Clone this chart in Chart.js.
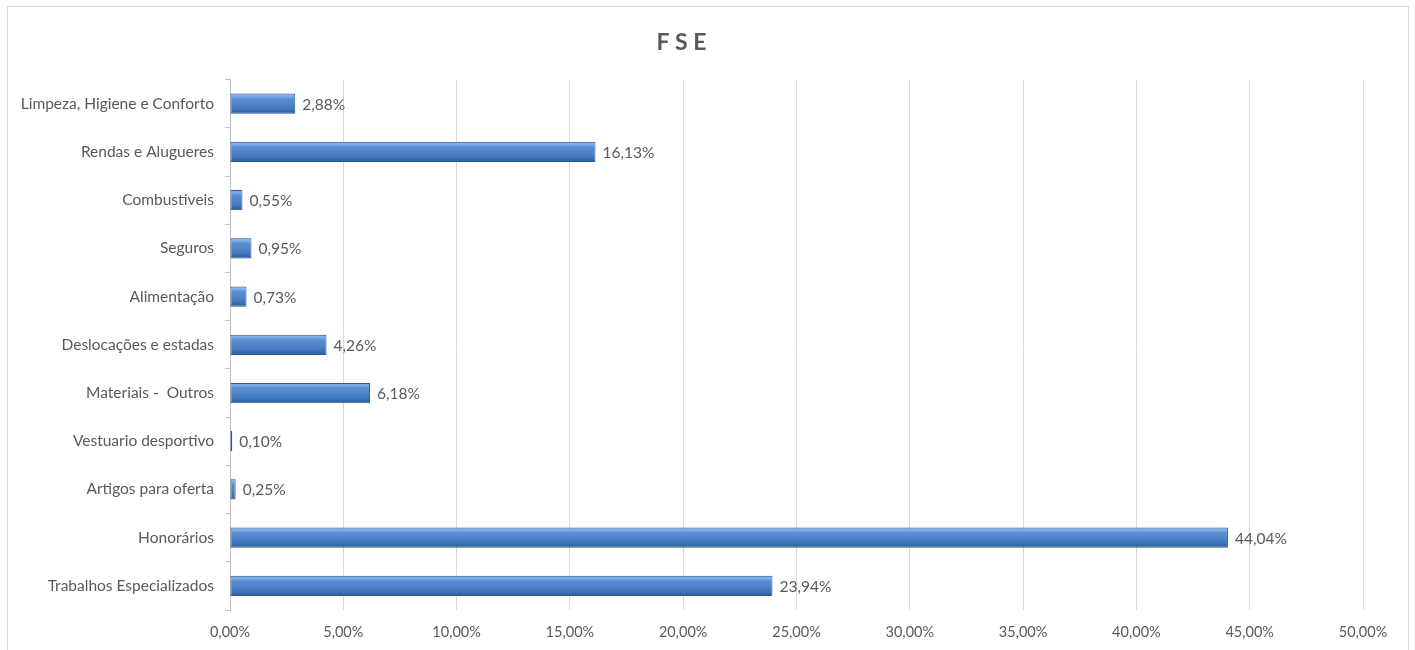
<!DOCTYPE html>
<html>
<head>
<meta charset="utf-8">
<script src="https://cdn.jsdelivr.net/npm/chart.js@4"></script>
<style>
  html, body { margin: 0; padding: 0; background: #fff; }
  #frame { position: absolute; left: 7px; top: 6px; width: 1400px; height: 660px; border: 1px solid #d9d9d9; }
  #wrap { position: absolute; left: 0; top: 0; width: 1415px; height: 650px; }
</style>
</head>
<body>
<div id="frame"></div>
<div id="wrap"><canvas id="chart" width="1415" height="650"></canvas></div>
<script>
const categories = [
  'Limpeza, Higiene e Conforto',
  'Rendas e Alugueres',
  'Combustiveis',
  'Seguros',
  'Alimentação',
  'Deslocações e estadas',
  'Materiais -  Outros',
  'Vestuario desportivo',
  'Artigos para oferta',
  'Honorários',
  'Trabalhos Especializados',
];
const values = [2.88, 16.13, 0.55, 0.95, 0.73, 4.26, 6.18, 0.10, 0.25, 44.04, 23.94];
const xTicks = [0, 5, 10, 15, 20, 25, 30, 35, 40, 45, 50];

const fmt = (v) => v.toFixed(2).replace('.', ',') + '%';
const FONT = 'Lato, "Open Sans", sans-serif';
const BAR_PCT = 0.84;
const CAT_PCT = 0.5;

// vertical bevel gradient, worked out per bar from the y scale
function barFill(ctx) {
  const y = ctx.chart.scales.y;
  if (!y || !y.height) return '#4f81bd';
  const center = y.getPixelForValue(ctx.dataIndex);
  const half = (y.height / categories.length) * BAR_PCT * CAT_PCT / 2;
  const g = ctx.chart.ctx.createLinearGradient(0, center - half, 0, center + half);
  g.addColorStop(0, '#5289cc');
  g.addColorStop(0.1, '#86b4ea');
  g.addColorStop(0.25, '#5a91d6');
  g.addColorStop(0.75, '#4277bb');
  g.addColorStop(1, '#2a5a96');
  return g;
}

const valueLabels = {
  id: 'valueLabels',
  afterDatasetsDraw(chart) {
    const c = chart.ctx;
    c.save();
    c.font = '15.5px ' + FONT;
    c.fillStyle = '#595959';
    c.textBaseline = 'middle';
    chart.getDatasetMeta(0).data.forEach((bar, i) => {
      c.fillText(fmt(values[i]), bar.x + 7, bar.y + 1);
    });
    c.restore();
  },
};

new Chart(document.getElementById('chart'), {
  type: 'bar',
  data: {
    labels: categories,
    datasets: [{
      data: values,
      backgroundColor: barFill,
      borderColor: '#2d5890',
      borderWidth: 1,
      borderSkipped: false,
      barPercentage: BAR_PCT,
      categoryPercentage: CAT_PCT,
    }],
  },
  plugins: [valueLabels],
  options: {
    indexAxis: 'y',
    responsive: false,
    animation: false,
    layout: { padding: { top: 4, right: 52, bottom: 0, left: 0 } },
    plugins: {
      legend: { display: false },
      tooltip: { enabled: false },
      title: {
        display: true,
        text: 'F S E',
        color: '#595959',
        font: { family: FONT, size: 23, weight: 'bold' },
        padding: { top: 25, bottom: 23 },
      },
    },
    scales: {
      x: {
        min: 0,
        max: 50,
        afterBuildTicks: (scale) => { scale.ticks = xTicks.map((v) => ({ value: v })); },
        afterFit: (scale) => { scale.height = 40; },
        grid: { color: '#d9d9d9', drawTicks: false },
        border: { display: false },
        ticks: {
          color: '#595959',
          font: { family: FONT, size: 14.5 },
          padding: 14,
          callback: (v) => fmt(v),
        },
      },
      y: {
        afterFit: (scale) => { scale.width = 230; },
        grid: { drawOnChartArea: false, drawTicks: true, tickLength: 5, color: '#bfbfbf', offset: true },
        border: { display: true, color: '#bfbfbf' },
        ticks: {
          color: '#595959',
          font: { family: FONT, size: 15.5 },
          padding: 11,
        },
      },
    },
  },
});
</script>
</body>
</html>
